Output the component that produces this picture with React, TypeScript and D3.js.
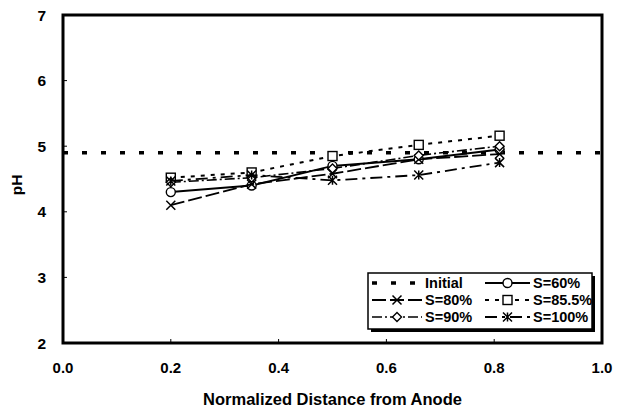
import React from "react";
import * as d3 from "d3";

// x positions (normalized distance from anode)
const xs = [0.2, 0.35, 0.5, 0.66, 0.81];
const initialPH = 4.9;
const s60 = [4.3, 4.4, 4.7, 4.8, 4.95];
const s80 = [4.1, 4.42, 4.58, 4.8, 4.88];
const s855 = [4.52, 4.6, 4.85, 5.02, 5.16];
const s90 = [4.45, 4.52, 4.66, 4.86, 5.0];
const s100 = [4.47, 4.56, 4.48, 4.56, 4.75];
const xTicks = [0, 0.2, 0.4, 0.6, 0.8, 1.0];
const yTicks = [2, 3, 4, 5, 6, 7];

const W = 621, H = 414;
const m = { left: 63, right: 602, top: 15, bottom: 343 };

type Series = { name: string; vals: number[]; dash: string; width: number; marker: string };
const series: Series[] = [
  { name: "S=60%", vals: s60, dash: "none", width: 2, marker: "circle" },
  { name: "S=80%", vals: s80, dash: "14 4", width: 1.8, marker: "x" },
  { name: "S=85.5%", vals: s855, dash: "4 6", width: 2, marker: "square" },
  { name: "S=90%", vals: s90, dash: "10 3 2 3", width: 1.6, marker: "diamond" },
  { name: "S=100%", vals: s100, dash: "12 5 3 5", width: 1.8, marker: "star" },
];

function Marker({ type, x, y }: { type: string; x: number; y: number }) {
  const s = 4.5;
  if (type === "circle") return <circle cx={x} cy={y} r={s} fill="#fff" stroke="#000" strokeWidth={1.4} />;
  if (type === "square") return <rect x={x - s} y={y - s} width={2 * s} height={2 * s} fill="#fff" stroke="#000" strokeWidth={1.4} />;
  if (type === "diamond")
    return <path d={`M${x},${y - s}L${x + s},${y}L${x},${y + s}L${x - s},${y}Z`} fill="#fff" stroke="#000" strokeWidth={1.4} />;
  if (type === "x")
    return <path d={`M${x - s},${y - s}L${x + s},${y + s}M${x - s},${y + s}L${x + s},${y - s}`} stroke="#000" strokeWidth={1.5} />;
  // star
  return (
    <path
      d={`M${x - s},${y - s}L${x + s},${y + s}M${x - s},${y + s}L${x + s},${y - s}M${x},${y - s}L${x},${y + s}`}
      stroke="#000"
      strokeWidth={1.5}
    />
  );
}

export default function App() {
  const x = d3.scaleLinear().domain([0, 1]).range([m.left, m.right]);
  const y = d3.scaleLinear().domain([2, 7]).range([m.bottom, m.top]);
  const line = d3
    .line<number>()
    .x((_, i) => x(xs[i]))
    .y((d) => y(d));
  const font = "'Liberation Sans', Arial, sans-serif";

  const legendRows = [
    [{ name: "Initial", dash: "5 14", width: 3.5, marker: "" }, series[0]],
    [series[1], series[2]],
    [series[3], series[4]],
  ];
  const lg = { x: 368, y: 273, w: 224, h: 56 };

  return (
    <svg width={W} height={H} style={{ position: "absolute", left: 0, top: 0 }} fontFamily={font}>
      <rect width={W} height={H} fill="#fff" />
      {/* initial line */}
      <line x1={x(0)} x2={x(1)} y1={y(initialPH)} y2={y(initialPH)} stroke="#000" strokeWidth={3.5} strokeDasharray="5 14" />
      {series.map((s) => (
        <g key={s.name}>
          <path d={line(s.vals) || ""} fill="none" stroke="#000" strokeWidth={s.width} strokeDasharray={s.dash} />
          {s.vals.map((v, i) => (
            <Marker key={i} type={s.marker} x={x(xs[i])} y={y(v)} />
          ))}
        </g>
      ))}
      {/* frame */}
      <rect x={m.left} y={m.top} width={m.right - m.left} height={m.bottom - m.top} fill="none" stroke="#000" strokeWidth={3} />
      {yTicks.map((t) => (
        <g key={t}>
          <line x1={m.left} x2={m.left + 4} y1={y(t)} y2={y(t)} stroke="#000" />
          <text x={46} y={y(t) + 5.5} textAnchor="end" fontSize={15.5} fontWeight="bold">
            {t}
          </text>
        </g>
      ))}
      {xTicks.map((t) => (
        <g key={t}>
          <line x1={x(t)} x2={x(t)} y1={m.bottom} y2={m.bottom - 4} stroke="#000" />
          <text x={x(t)} y={373} textAnchor="middle" fontSize={15} fontWeight="bold">
            {t.toFixed(1)}
          </text>
        </g>
      ))}
      <text x={x(0.5)} y={405} textAnchor="middle" fontSize={16.5} fontWeight="bold">
        Normalized Distance from Anode
      </text>
      <text transform={`translate(22,185) rotate(-90)`} textAnchor="middle" fontSize={15.5} fontWeight="bold">
        pH
      </text>
      {/* legend */}
      <rect x={lg.x + 3} y={lg.y + 3} width={lg.w} height={lg.h} fill="#000" />
      <rect x={lg.x} y={lg.y} width={lg.w} height={lg.h} fill="#fff" stroke="#000" strokeWidth={1.5} />
      {legendRows.map((row, ri) =>
        row.map((s, ci) => {
          const ly = lg.y + 10 + ri * 17;
          const lx = ci === 0 ? lg.x + 4 : lg.x + 117;
          const len = ci === 0 ? 50 : 45;
          return (
            <g key={`${ri}-${ci}`}>
              <line x1={lx} x2={lx + len} y1={ly} y2={ly} stroke="#000" strokeWidth={s.width} strokeDasharray={s.dash} />
              {s.marker && <Marker type={s.marker} x={lx + len / 2} y={ly} />}
              <text x={lx + len + 3} y={ly + 5} fontSize={14.5} fontWeight="bold">
                {s.name}
              </text>
            </g>
          );
        })
      )}
    </svg>
  );
}
